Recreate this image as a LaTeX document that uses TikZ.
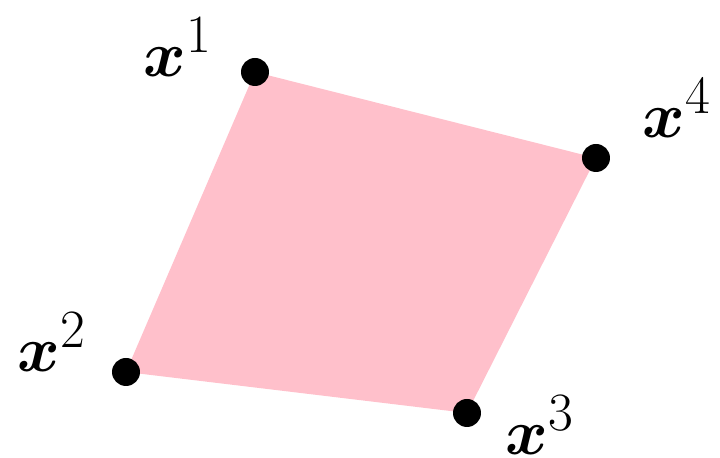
\documentclass[tikz,border=0pt]{standalone}
\usepackage{amsmath,bm}
\begin{document}
\begin{tikzpicture}[x=0.5pt,y=-0.5pt,
  dot/.style={circle,fill=black,inner sep=0pt,minimum size=14pt},
  lbl/.style={inner sep=0pt,font=\Huge,scale=1.3,transform shape}]
\definecolor{pinkfill}{RGB}{255,192,203}
\useasboundingbox (0,0) rectangle (720,458);
\coordinate (c1) at (255,72);
\coordinate (c2) at (126,372);
\coordinate (c3) at (467,413);
\coordinate (c4) at (596,158);
\fill[pinkfill] (c1) -- (c2) -- (c3) -- (c4) -- cycle;
\node[dot] (p1) at (c1) {};
\node[dot] (p2) at (c2) {};
\node[dot] (p3) at (c3) {};
\node[dot] (p4) at (c4) {};
\node[lbl] (l1) at (178,47) {$\bm{x}^1$};
\node[lbl] (l2) at (52,342) {$\bm{x}^2$};
\node[lbl] (l3) at (540,425) {$\bm{x}^3$};
\node[lbl] (l4) at (677,108) {$\bm{x}^4$};
\end{tikzpicture}
\end{document}
